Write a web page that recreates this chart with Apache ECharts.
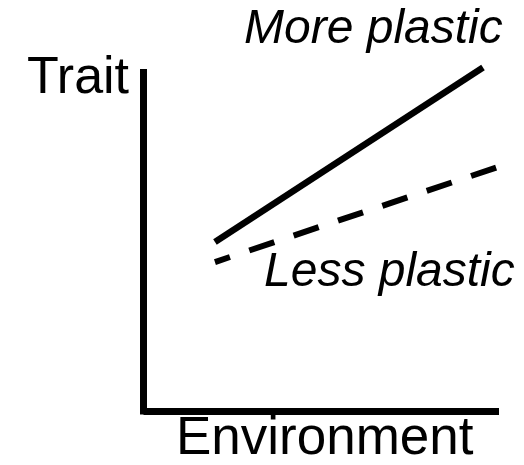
<!DOCTYPE html>
<html>
<head>
<meta charset="utf-8">
<script src="https://cdn.jsdelivr.net/npm/echarts@6/dist/echarts.min.js"></script>
<style>
  html, body { margin: 0; padding: 0; background: #fff; }
  #chart { width: 524px; height: 465px; }
</style>
</head>
<body>
<div id="chart"></div>
<script>
  // reaction norms: [environment, trait]
  const morePlastic = [[2.01, 4.99], [9.55, 10.15]]
  const lessPlastic = [[2.01, 4.40], [9.97, 7.21]]
  const xName = 'Environment'
  const yName = 'Trait'
  const moreLabel = 'More plastic'
  const lessLabel = 'Less plastic'

  const font = '"Liberation Sans", Arial, sans-serif'
  let chart = echarts.init(document.getElementById('chart'))
  chart.setOption({
    animation: false,
    grid: { left: 143.5, right: 25, top: 72.5, bottom: 54 },
    xAxis: {
      type: 'value', min: 0, max: 10,
      axisLine: { show: true, lineStyle: { color: '#000', width: 7, cap: 'butt' } },
      axisTick: { show: false },
      axisLabel: { show: false },
      splitLine: { show: false }
    },
    yAxis: {
      type: 'value', min: 0, max: 10,
      axisLine: { show: true, lineStyle: { color: '#000', width: 7, cap: 'square' } },
      axisTick: { show: false },
      axisLabel: { show: false },
      splitLine: { show: false }
    },
    graphic: [
      { type: 'text', left: 27, top: 53, style: { text: yName, font: '52px ' + font, fill: '#000' } },
      { type: 'text', left: 176, top: 413, style: { text: xName, font: '53px ' + font, fill: '#000' } },
      { type: 'text', left: 244, top: 6, style: { text: moreLabel, font: 'italic 48px ' + font, fill: '#000' } },
      { type: 'text', left: 264, top: 249, style: { text: lessLabel, font: 'italic 48px ' + font, fill: '#000' } }
    ],
    series: [
      {
        name: moreLabel, type: 'line', data: morePlastic,
        symbol: 'none', clip: false, silent: true,
        lineStyle: { color: '#000', width: 6.5, cap: 'butt' }
      },
      {
        name: lessLabel, type: 'line', data: lessPlastic,
        symbol: 'none', clip: false, silent: true,
        lineStyle: { color: '#000', width: 6, type: [26.4, 20.4], dashOffset: 10.6, cap: 'butt' }
      }
    ]
  })
</script>
</body>
</html>
